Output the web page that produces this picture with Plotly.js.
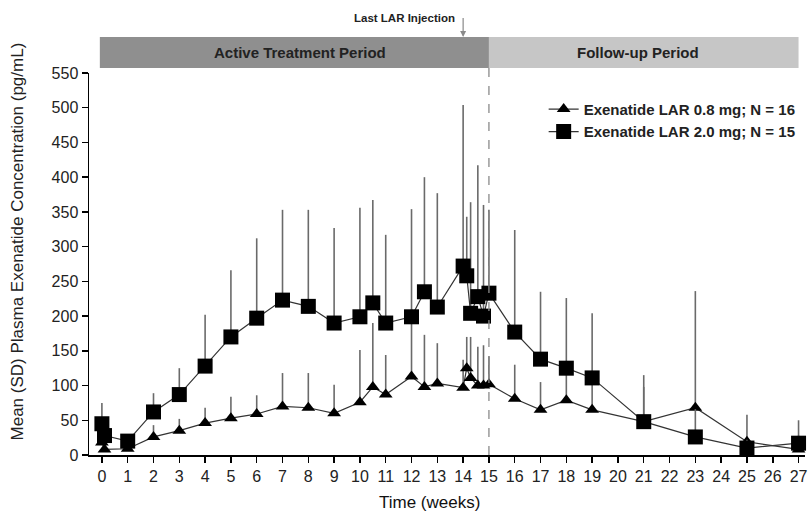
<!DOCTYPE html>
<html>
<head>
<meta charset="utf-8">
<script src="https://cdn.plot.ly/plotly-3.0.1.min.js"></script>
<style>html,body{margin:0;padding:0;background:#fff;}#chart{width:810px;height:513px;}</style>
</head>
<body>
<div id="chart"></div>
<script>
// Time points (weeks)
var weeks = [0, 0.1, 1, 2, 3, 4, 5, 6, 7, 8, 9, 10, 10.5, 11, 12, 12.5, 13, 14, 14.14, 14.29, 14.57, 14.79, 15, 16, 17, 18, 19, 21, 23, 25, 27];
// Exenatide LAR 0.8 mg mean and SD (pg/mL)
var mean08 = [18, 8, 9, 26, 35, 46, 53, 59, 70, 68, 60, 76, 98, 87, 113, 98, 103, 97, 125, 111, 100, 100, 102, 81, 65, 79, 65, 48, 68, 19, 8];
var sd08   = [20, 10, 8, 17, 17, 22, 31, 27, 48, 50, 41, 75, 92, 57, 97, 75, 58, 40, 45, 59, 56, 58, 40, 49, 40, 45, 40, 50, 168, 39, 20];
// Exenatide LAR 2.0 mg mean and SD (pg/mL)
var mean20 = [45, 28, 20, 62, 87, 128, 170, 197, 223, 214, 190, 199, 219, 190, 199, 235, 213, 272, 258, 204, 228, 200, 233, 177, 138, 125, 111, 48, 26, 10, 17];
var sd20   = [30, 15, 10, 27, 38, 74, 96, 115, 130, 139, 137, 157, 148, 127, 155, 165, 164, 232, 85, 160, 189, 160, 120, 147, 97, 101, 93, 67, 40, 12, 33];
var xTicks = [0,1,2,3,4,5,6,7,8,9,10,11,12,13,14,15,16,17,18,19,20,21,22,23,24,25,26,27];
var names = ['Exenatide LAR 0.8 mg; N = 16', 'Exenatide LAR 2.0 mg; N = 15'];
var periodLabels = ['Active Treatment Period', 'Follow-up Period'];
var xTitle = 'Time (weeks)';
var yTitle = 'Mean (SD) Plasma Exenatide Concentration (pg/mL)';
var lastInjectionWeek = 14;
var followUpStart = 15;

var FONT = 'Liberation Sans, Arial, sans-serif';
var errStyle = {type: 'data', symmetric: false, visible: true, thickness: 1.6, width: 0, color: '#6a6a6a'};

var traces = [
  {
    x: weeks, y: mean08, name: names[0], type: 'scatter', mode: 'lines+markers', cliponaxis: false,
    line: {color: '#333', width: 1.2},
    marker: {symbol: 'triangle-up', size: 12, color: '#000'},
    error_y: Object.assign({array: sd08}, errStyle)
  },
  {
    x: weeks, y: mean20, name: names[1], type: 'scatter', mode: 'lines+markers', cliponaxis: false,
    line: {color: '#333', width: 1.2},
    marker: {symbol: 'square', size: 15, color: '#000'},
    error_y: Object.assign({array: sd20}, errStyle)
  }
];

var layout = {
  width: 810, height: 513,
  margin: {l: 89, r: 5, t: 73, b: 58},
  paper_bgcolor: '#fff', plot_bgcolor: '#fff',
  font: {family: FONT, color: '#222', size: 13},
  showlegend: true,
  legend: {x: 0.635, y: 0.948, xanchor: 'left', yanchor: 'top', bgcolor: 'rgba(0,0,0,0)',
           font: {family: FONT, size: 15, weight: 'bold', color: '#222'}, tracegroupgap: 0, itemwidth: 30},
  xaxis: {
    range: [-0.5, 27.25], tickvals: xTicks, ticktext: xTicks.map(String),
    showline: true, linecolor: '#000', linewidth: 1.5, ticks: 'outside', ticklen: 6, tickwidth: 1.5, tickcolor: '#000',
    showgrid: false, zeroline: false, tickfont: {size: 16, color: '#222'}
  },
  yaxis: {
    range: [0, 550], dtick: 50, tick0: 0,
    showline: true, linecolor: '#000', linewidth: 1.5, ticks: 'outside', ticklen: 6, tickwidth: 1.5, tickcolor: '#000',
    showgrid: false, zeroline: false, tickfont: {size: 16, color: '#222'}
  },
  shapes: [
    {type: 'rect', xref: 'x', yref: 'paper', x0: -0.08, x1: followUpStart, y0: 1.013, y1: 1.094, fillcolor: '#8f8f8f', line: {width: 0}, layer: 'below'},
    {type: 'rect', xref: 'x', yref: 'paper', x0: followUpStart, x1: 27, y0: 1.013, y1: 1.094, fillcolor: '#c6c6c6', line: {width: 0}, layer: 'below'},
    {type: 'line', xref: 'x', yref: 'paper', x0: followUpStart, x1: followUpStart, y0: 0, y1: 1.013, line: {color: '#8a8a8a', width: 1.3, dash: 'dash'}}
  ],
  annotations: [
    {xref: 'x', yref: 'paper', x: 7.67, y: 1.0535, yanchor: 'middle', xanchor: 'center', text: periodLabels[0], showarrow: false, font: {size: 15, weight: 'bold', color: '#222'}},
    {xref: 'x', yref: 'paper', x: 20.77, y: 1.0535, yanchor: 'middle', xanchor: 'center', text: periodLabels[1], showarrow: false, font: {size: 15, weight: 'bold', color: '#222'}},
    {xref: 'x', yref: 'paper', x: lastInjectionWeek, y: 1.094, text: ' ', showarrow: true, ax: 0, ay: -28,
     arrowhead: 2, arrowsize: 1, arrowwidth: 1.2, arrowcolor: '#8a8a8a'},
    {xref: 'x', yref: 'paper', x: lastInjectionWeek - 0.25, y: 1.144, xanchor: 'right', yanchor: 'middle', text: 'Last LAR Injection', showarrow: false,
     font: {size: 11.5, weight: 'bold', color: '#222'}},
    {xref: 'paper', yref: 'paper', x: 0.476, y: -0.124, xanchor: 'center', yanchor: 'middle', text: xTitle, showarrow: false, font: {size: 17, color: '#111'}},
    {xref: 'paper', yref: 'paper', x: -0.1, y: 0.56, xanchor: 'center', yanchor: 'middle', text: yTitle, textangle: -90, showarrow: false, font: {size: 17, color: '#222'}}
  ]
};

Plotly.newPlot('chart', traces, layout, {displayModeBar: false, staticPlot: true});
</script>
</body>
</html>
